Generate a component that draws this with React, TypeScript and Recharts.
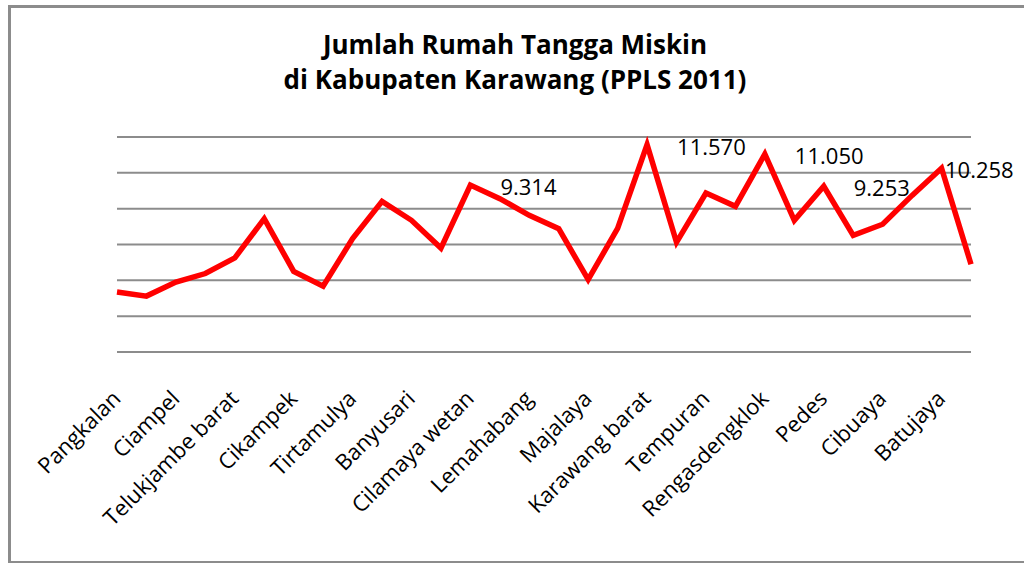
import React from 'react';
import { LineChart, Line, XAxis, YAxis, CartesianGrid, LabelList } from 'recharts';

// Kecamatan in Kabupaten Karawang (only every other name is shown on the axis)
const districts = [
    'Pangkalan', 'Tegalwaru', 'Ciampel', 'Telukjambe timur', 'Telukjambe barat',
    'Klari', 'Cikampek', 'Purwasari', 'Tirtamulya', 'Jatisari',
    'Banyusari', 'Kotabaru', 'Cilamaya wetan', 'Cilamaya kulon', 'Lemahabang',
    'Telagasari', 'Majalaya', 'Karawang timur', 'Karawang barat', 'Rawamerta',
    'Tempuran', 'Kutawaluya', 'Rengasdengklok', 'Jayakerta', 'Pedes',
    'Cilebar', 'Cibuaya', 'Tirtajaya', 'Batujaya', 'Pakisjaya',
];

// poor households per kecamatan (PPLS 2011)
const households = [
    3350, 3120, 3900, 4380, 5250,
    7440, 4500, 3670, 6330, 8410,
    7350, 5800, 9314, 8560, 7630,
    6880, 4040, 6900, 11570, 6120,
    8870, 8130, 11050, 7350, 9253,
    6510, 7130, 8740, 10258, 4900,
];

// only these points carry a value label
const labeledDistricts = ['Cilamaya wetan', 'Karawang barat', 'Rengasdengklok', 'Pedes', 'Batujaya'];

const yTicks = [0, 2000, 4000, 6000, 8000, 10000, 12000];

const chartData = districts.map((name, i) => ({ name, households: households[i] }));

const FONT = '"Open Sans", sans-serif';

const formatId = (v: number) => String(v).replace(/\B(?=(\d{3})+(?!\d))/g, '.');

const RotatedTick = (props: any) => {
    const { x, y, payload } = props;
    const tx = x + 5;
    const ty = y + 40;
    return (
        <text
            x={tx}
            y={ty}
            textAnchor="end"
            transform={`rotate(-45, ${tx}, ${ty})`}
            fontFamily={FONT}
            fontSize={22}
            fill="#000"
        >
            {payload.value}
        </text>
    );
};

const ValueLabel = (props: any) => {
    const { x, y, value, index } = props;
    if (!labeledDistricts.includes(districts[index])) return null;
    const text = formatId(value);
    const w = text.length * 11.5;
    let tx = x + 30;
    if (tx + w > 1014) tx = 1014 - w;
    return (
        <text x={tx} y={y + 10} fontFamily={FONT} fontSize={22} fill="#000">
            {text}
        </text>
    );
};

const App: React.FC = () => {
    return (
        <div style={{ position: 'absolute', left: 0, top: 0, width: 1024, height: 563, background: '#fff' }}>
            <div
                style={{
                    position: 'absolute',
                    left: 8,
                    top: 5,
                    width: 1013,
                    height: 553,
                    border: '3px solid #8c8c8c',
                }}
            />
            <div
                style={{
                    position: 'absolute',
                    left: 215,
                    top: 27,
                    width: 600,
                    textAlign: 'center',
                    fontFamily: FONT,
                    fontWeight: 700,
                    fontSize: 26,
                    lineHeight: '35px',
                    color: '#000',
                }}
            >
                Jumlah Rumah Tangga Miskin
                <br />
                di Kabupaten Karawang (PPLS 2011)
            </div>
            <div style={{ position: 'absolute', left: 0, top: 0 }}>
                <LineChart
                    width={1024}
                    height={563}
                    data={chartData}
                    margin={{ top: 137, right: 53, bottom: 0, left: 117 }}
                >
                    <CartesianGrid vertical={false} stroke="#8c8c8c" strokeWidth={2} />
                    <XAxis
                        dataKey="name"
                        interval={1}
                        axisLine={false}
                        tickLine={false}
                        tick={<RotatedTick />}
                        height={211}
                    />
                    <YAxis hide domain={[0, 12000]} ticks={yTicks} width={0} />
                    <Line
                        type="linear"
                        dataKey="households"
                        stroke="#ff0000"
                        strokeWidth={5.5}
                        strokeLinejoin="miter"
                        dot={false}
                        isAnimationActive={false}
                    >
                        <LabelList dataKey="households" content={<ValueLabel />} />
                    </Line>
                </LineChart>
            </div>
        </div>
    );
};

export default App;
